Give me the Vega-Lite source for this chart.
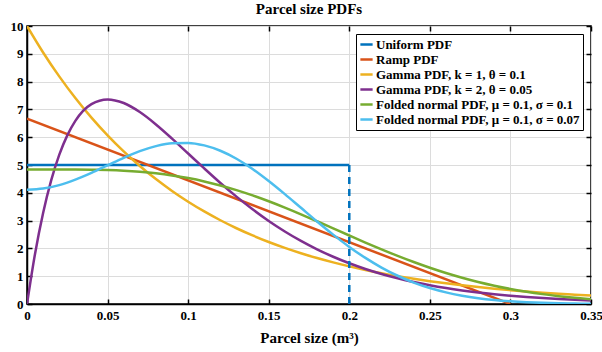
{
  "$schema": "https://vega.github.io/schema/vega-lite/v6.json",
  "width": 564,
  "height": 278,
  "autosize": {"type": "none"},
  "padding": {"left": 27, "top": 26, "right": 11, "bottom": 48},
  "background": "white",
  "config": {
    "font": "Liberation Serif, serif",
    "view": {"stroke": "black", "strokeWidth": 1.5},
    "axis": {
      "labelFont": "Liberation Serif, serif", "labelFontWeight": "bold", "labelFontSize": 13, "labelColor": "black",
      "titleFont": "Liberation Serif, serif", "titleFontWeight": "bold", "titleFontSize": 15, "titleColor": "black",
      "domainColor": "black", "domainWidth": 1.5, "tickColor": "black", "tickWidth": 1.5, "tickSize": -5,
      "gridColor": "#dcdcdc", "gridWidth": 1, "labelOverlap": false
    },
    "legend": {
      "labelFont": "Liberation Serif, serif", "labelFontWeight": "bold", "labelFontSize": 13, "labelColor": "black"
    }
  },
  "title": {"text": "Parcel size PDFs", "font": "Liberation Serif, serif", "fontWeight": "bold", "fontSize": 15, "color": "black", "offset": 3},
  "datasets": {
    "curves": [
      {"x": 0, "y": 5, "s": "Uniform PDF"},
      {"x": 0.2, "y": 5, "s": "Uniform PDF"},
      {"x": 0, "y": 6.667, "s": "Ramp PDF"},
      {"x": 0.3, "y": 0, "s": "Ramp PDF"},
      {"x": 0, "y": 10, "s": "Gamma PDF, k = 1, θ = 0.1"},
      {"x": 0.01, "y": 9.048, "s": "Gamma PDF, k = 1, θ = 0.1"},
      {"x": 0.02, "y": 8.187, "s": "Gamma PDF, k = 1, θ = 0.1"},
      {"x": 0.03, "y": 7.408, "s": "Gamma PDF, k = 1, θ = 0.1"},
      {"x": 0.04, "y": 6.703, "s": "Gamma PDF, k = 1, θ = 0.1"},
      {"x": 0.05, "y": 6.065, "s": "Gamma PDF, k = 1, θ = 0.1"},
      {"x": 0.06, "y": 5.488, "s": "Gamma PDF, k = 1, θ = 0.1"},
      {"x": 0.07, "y": 4.966, "s": "Gamma PDF, k = 1, θ = 0.1"},
      {"x": 0.08, "y": 4.493, "s": "Gamma PDF, k = 1, θ = 0.1"},
      {"x": 0.09, "y": 4.066, "s": "Gamma PDF, k = 1, θ = 0.1"},
      {"x": 0.1, "y": 3.679, "s": "Gamma PDF, k = 1, θ = 0.1"},
      {"x": 0.11, "y": 3.329, "s": "Gamma PDF, k = 1, θ = 0.1"},
      {"x": 0.12, "y": 3.012, "s": "Gamma PDF, k = 1, θ = 0.1"},
      {"x": 0.13, "y": 2.725, "s": "Gamma PDF, k = 1, θ = 0.1"},
      {"x": 0.14, "y": 2.466, "s": "Gamma PDF, k = 1, θ = 0.1"},
      {"x": 0.15, "y": 2.231, "s": "Gamma PDF, k = 1, θ = 0.1"},
      {"x": 0.16, "y": 2.019, "s": "Gamma PDF, k = 1, θ = 0.1"},
      {"x": 0.17, "y": 1.827, "s": "Gamma PDF, k = 1, θ = 0.1"},
      {"x": 0.18, "y": 1.653, "s": "Gamma PDF, k = 1, θ = 0.1"},
      {"x": 0.19, "y": 1.496, "s": "Gamma PDF, k = 1, θ = 0.1"},
      {"x": 0.2, "y": 1.353, "s": "Gamma PDF, k = 1, θ = 0.1"},
      {"x": 0.21, "y": 1.225, "s": "Gamma PDF, k = 1, θ = 0.1"},
      {"x": 0.22, "y": 1.108, "s": "Gamma PDF, k = 1, θ = 0.1"},
      {"x": 0.23, "y": 1.003, "s": "Gamma PDF, k = 1, θ = 0.1"},
      {"x": 0.24, "y": 0.907, "s": "Gamma PDF, k = 1, θ = 0.1"},
      {"x": 0.25, "y": 0.821, "s": "Gamma PDF, k = 1, θ = 0.1"},
      {"x": 0.26, "y": 0.743, "s": "Gamma PDF, k = 1, θ = 0.1"},
      {"x": 0.27, "y": 0.672, "s": "Gamma PDF, k = 1, θ = 0.1"},
      {"x": 0.28, "y": 0.608, "s": "Gamma PDF, k = 1, θ = 0.1"},
      {"x": 0.29, "y": 0.55, "s": "Gamma PDF, k = 1, θ = 0.1"},
      {"x": 0.3, "y": 0.498, "s": "Gamma PDF, k = 1, θ = 0.1"},
      {"x": 0.31, "y": 0.45, "s": "Gamma PDF, k = 1, θ = 0.1"},
      {"x": 0.32, "y": 0.408, "s": "Gamma PDF, k = 1, θ = 0.1"},
      {"x": 0.33, "y": 0.369, "s": "Gamma PDF, k = 1, θ = 0.1"},
      {"x": 0.34, "y": 0.334, "s": "Gamma PDF, k = 1, θ = 0.1"},
      {"x": 0.35, "y": 0.302, "s": "Gamma PDF, k = 1, θ = 0.1"},
      {"x": 0, "y": 0, "s": "Gamma PDF, k = 2, θ = 0.05"},
      {"x": 0.005, "y": 1.81, "s": "Gamma PDF, k = 2, θ = 0.05"},
      {"x": 0.01, "y": 3.275, "s": "Gamma PDF, k = 2, θ = 0.05"},
      {"x": 0.015, "y": 4.445, "s": "Gamma PDF, k = 2, θ = 0.05"},
      {"x": 0.02, "y": 5.363, "s": "Gamma PDF, k = 2, θ = 0.05"},
      {"x": 0.025, "y": 6.065, "s": "Gamma PDF, k = 2, θ = 0.05"},
      {"x": 0.03, "y": 6.586, "s": "Gamma PDF, k = 2, θ = 0.05"},
      {"x": 0.04, "y": 7.189, "s": "Gamma PDF, k = 2, θ = 0.05"},
      {"x": 0.05, "y": 7.358, "s": "Gamma PDF, k = 2, θ = 0.05"},
      {"x": 0.06, "y": 7.229, "s": "Gamma PDF, k = 2, θ = 0.05"},
      {"x": 0.07, "y": 6.905, "s": "Gamma PDF, k = 2, θ = 0.05"},
      {"x": 0.08, "y": 6.46, "s": "Gamma PDF, k = 2, θ = 0.05"},
      {"x": 0.09, "y": 5.951, "s": "Gamma PDF, k = 2, θ = 0.05"},
      {"x": 0.1, "y": 5.413, "s": "Gamma PDF, k = 2, θ = 0.05"},
      {"x": 0.11, "y": 4.876, "s": "Gamma PDF, k = 2, θ = 0.05"},
      {"x": 0.12, "y": 4.354, "s": "Gamma PDF, k = 2, θ = 0.05"},
      {"x": 0.13, "y": 3.862, "s": "Gamma PDF, k = 2, θ = 0.05"},
      {"x": 0.14, "y": 3.405, "s": "Gamma PDF, k = 2, θ = 0.05"},
      {"x": 0.15, "y": 2.987, "s": "Gamma PDF, k = 2, θ = 0.05"},
      {"x": 0.16, "y": 2.609, "s": "Gamma PDF, k = 2, θ = 0.05"},
      {"x": 0.17, "y": 2.269, "s": "Gamma PDF, k = 2, θ = 0.05"},
      {"x": 0.18, "y": 1.967, "s": "Gamma PDF, k = 2, θ = 0.05"},
      {"x": 0.19, "y": 1.7, "s": "Gamma PDF, k = 2, θ = 0.05"},
      {"x": 0.2, "y": 1.465, "s": "Gamma PDF, k = 2, θ = 0.05"},
      {"x": 0.21, "y": 1.26, "s": "Gamma PDF, k = 2, θ = 0.05"},
      {"x": 0.22, "y": 1.081, "s": "Gamma PDF, k = 2, θ = 0.05"},
      {"x": 0.23, "y": 0.925, "s": "Gamma PDF, k = 2, θ = 0.05"},
      {"x": 0.24, "y": 0.79, "s": "Gamma PDF, k = 2, θ = 0.05"},
      {"x": 0.25, "y": 0.674, "s": "Gamma PDF, k = 2, θ = 0.05"},
      {"x": 0.26, "y": 0.574, "s": "Gamma PDF, k = 2, θ = 0.05"},
      {"x": 0.27, "y": 0.488, "s": "Gamma PDF, k = 2, θ = 0.05"},
      {"x": 0.28, "y": 0.414, "s": "Gamma PDF, k = 2, θ = 0.05"},
      {"x": 0.29, "y": 0.351, "s": "Gamma PDF, k = 2, θ = 0.05"},
      {"x": 0.3, "y": 0.297, "s": "Gamma PDF, k = 2, θ = 0.05"},
      {"x": 0.31, "y": 0.252, "s": "Gamma PDF, k = 2, θ = 0.05"},
      {"x": 0.32, "y": 0.213, "s": "Gamma PDF, k = 2, θ = 0.05"},
      {"x": 0.33, "y": 0.18, "s": "Gamma PDF, k = 2, θ = 0.05"},
      {"x": 0.34, "y": 0.151, "s": "Gamma PDF, k = 2, θ = 0.05"},
      {"x": 0.35, "y": 0.128, "s": "Gamma PDF, k = 2, θ = 0.05"},
      {"x": 0, "y": 4.839, "s": "Folded normal PDF, μ = 0.1, σ = 0.1"},
      {"x": 0.01, "y": 4.839, "s": "Folded normal PDF, μ = 0.1, σ = 0.1"},
      {"x": 0.02, "y": 4.839, "s": "Folded normal PDF, μ = 0.1, σ = 0.1"},
      {"x": 0.03, "y": 4.836, "s": "Folded normal PDF, μ = 0.1, σ = 0.1"},
      {"x": 0.04, "y": 4.83, "s": "Folded normal PDF, μ = 0.1, σ = 0.1"},
      {"x": 0.05, "y": 4.816, "s": "Folded normal PDF, μ = 0.1, σ = 0.1"},
      {"x": 0.06, "y": 4.792, "s": "Folded normal PDF, μ = 0.1, σ = 0.1"},
      {"x": 0.07, "y": 4.754, "s": "Folded normal PDF, μ = 0.1, σ = 0.1"},
      {"x": 0.08, "y": 4.7, "s": "Folded normal PDF, μ = 0.1, σ = 0.1"},
      {"x": 0.09, "y": 4.626, "s": "Folded normal PDF, μ = 0.1, σ = 0.1"},
      {"x": 0.1, "y": 4.529, "s": "Folded normal PDF, μ = 0.1, σ = 0.1"},
      {"x": 0.11, "y": 4.409, "s": "Folded normal PDF, μ = 0.1, σ = 0.1"},
      {"x": 0.12, "y": 4.265, "s": "Folded normal PDF, μ = 0.1, σ = 0.1"},
      {"x": 0.13, "y": 4.097, "s": "Folded normal PDF, μ = 0.1, σ = 0.1"},
      {"x": 0.14, "y": 3.907, "s": "Folded normal PDF, μ = 0.1, σ = 0.1"},
      {"x": 0.15, "y": 3.696, "s": "Folded normal PDF, μ = 0.1, σ = 0.1"},
      {"x": 0.16, "y": 3.468, "s": "Folded normal PDF, μ = 0.1, σ = 0.1"},
      {"x": 0.17, "y": 3.227, "s": "Folded normal PDF, μ = 0.1, σ = 0.1"},
      {"x": 0.18, "y": 2.976, "s": "Folded normal PDF, μ = 0.1, σ = 0.1"},
      {"x": 0.19, "y": 2.72, "s": "Folded normal PDF, μ = 0.1, σ = 0.1"},
      {"x": 0.2, "y": 2.464, "s": "Folded normal PDF, μ = 0.1, σ = 0.1"},
      {"x": 0.21, "y": 2.211, "s": "Folded normal PDF, μ = 0.1, σ = 0.1"},
      {"x": 0.22, "y": 1.966, "s": "Folded normal PDF, μ = 0.1, σ = 0.1"},
      {"x": 0.23, "y": 1.731, "s": "Folded normal PDF, μ = 0.1, σ = 0.1"},
      {"x": 0.24, "y": 1.51, "s": "Folded normal PDF, μ = 0.1, σ = 0.1"},
      {"x": 0.25, "y": 1.304, "s": "Folded normal PDF, μ = 0.1, σ = 0.1"},
      {"x": 0.26, "y": 1.115, "s": "Folded normal PDF, μ = 0.1, σ = 0.1"},
      {"x": 0.27, "y": 0.945, "s": "Folded normal PDF, μ = 0.1, σ = 0.1"},
      {"x": 0.28, "y": 0.792, "s": "Folded normal PDF, μ = 0.1, σ = 0.1"},
      {"x": 0.29, "y": 0.658, "s": "Folded normal PDF, μ = 0.1, σ = 0.1"},
      {"x": 0.3, "y": 0.541, "s": "Folded normal PDF, μ = 0.1, σ = 0.1"},
      {"x": 0.31, "y": 0.44, "s": "Folded normal PDF, μ = 0.1, σ = 0.1"},
      {"x": 0.32, "y": 0.355, "s": "Folded normal PDF, μ = 0.1, σ = 0.1"},
      {"x": 0.33, "y": 0.283, "s": "Folded normal PDF, μ = 0.1, σ = 0.1"},
      {"x": 0.34, "y": 0.224, "s": "Folded normal PDF, μ = 0.1, σ = 0.1"},
      {"x": 0.35, "y": 0.175, "s": "Folded normal PDF, μ = 0.1, σ = 0.1"},
      {"x": 0, "y": 4.109, "s": "Folded normal PDF, μ = 0.1, σ = 0.07"},
      {"x": 0.01, "y": 4.152, "s": "Folded normal PDF, μ = 0.1, σ = 0.07"},
      {"x": 0.02, "y": 4.277, "s": "Folded normal PDF, μ = 0.1, σ = 0.07"},
      {"x": 0.03, "y": 4.473, "s": "Folded normal PDF, μ = 0.1, σ = 0.07"},
      {"x": 0.04, "y": 4.718, "s": "Folded normal PDF, μ = 0.1, σ = 0.07"},
      {"x": 0.05, "y": 4.989, "s": "Folded normal PDF, μ = 0.1, σ = 0.07"},
      {"x": 0.06, "y": 5.259, "s": "Folded normal PDF, μ = 0.1, σ = 0.07"},
      {"x": 0.07, "y": 5.498, "s": "Folded normal PDF, μ = 0.1, σ = 0.07"},
      {"x": 0.08, "y": 5.68, "s": "Folded normal PDF, μ = 0.1, σ = 0.07"},
      {"x": 0.09, "y": 5.785, "s": "Folded normal PDF, μ = 0.1, σ = 0.07"},
      {"x": 0.1, "y": 5.795, "s": "Folded normal PDF, μ = 0.1, σ = 0.07"},
      {"x": 0.11, "y": 5.705, "s": "Folded normal PDF, μ = 0.1, σ = 0.07"},
      {"x": 0.12, "y": 5.512, "s": "Folded normal PDF, μ = 0.1, σ = 0.07"},
      {"x": 0.13, "y": 5.225, "s": "Folded normal PDF, μ = 0.1, σ = 0.07"},
      {"x": 0.14, "y": 4.857, "s": "Folded normal PDF, μ = 0.1, σ = 0.07"},
      {"x": 0.15, "y": 4.425, "s": "Folded normal PDF, μ = 0.1, σ = 0.07"},
      {"x": 0.16, "y": 3.953, "s": "Folded normal PDF, μ = 0.1, σ = 0.07"},
      {"x": 0.17, "y": 3.46, "s": "Folded normal PDF, μ = 0.1, σ = 0.07"},
      {"x": 0.18, "y": 2.968, "s": "Folded normal PDF, μ = 0.1, σ = 0.07"},
      {"x": 0.19, "y": 2.495, "s": "Folded normal PDF, μ = 0.1, σ = 0.07"},
      {"x": 0.2, "y": 2.054, "s": "Folded normal PDF, μ = 0.1, σ = 0.07"},
      {"x": 0.21, "y": 1.658, "s": "Folded normal PDF, μ = 0.1, σ = 0.07"},
      {"x": 0.22, "y": 1.311, "s": "Folded normal PDF, μ = 0.1, σ = 0.07"},
      {"x": 0.23, "y": 1.016, "s": "Folded normal PDF, μ = 0.1, σ = 0.07"},
      {"x": 0.24, "y": 0.771, "s": "Folded normal PDF, μ = 0.1, σ = 0.07"},
      {"x": 0.25, "y": 0.574, "s": "Folded normal PDF, μ = 0.1, σ = 0.07"},
      {"x": 0.26, "y": 0.418, "s": "Folded normal PDF, μ = 0.1, σ = 0.07"},
      {"x": 0.27, "y": 0.299, "s": "Folded normal PDF, μ = 0.1, σ = 0.07"},
      {"x": 0.28, "y": 0.209, "s": "Folded normal PDF, μ = 0.1, σ = 0.07"},
      {"x": 0.29, "y": 0.143, "s": "Folded normal PDF, μ = 0.1, σ = 0.07"},
      {"x": 0.3, "y": 0.096, "s": "Folded normal PDF, μ = 0.1, σ = 0.07"},
      {"x": 0.31, "y": 0.063, "s": "Folded normal PDF, μ = 0.1, σ = 0.07"},
      {"x": 0.32, "y": 0.041, "s": "Folded normal PDF, μ = 0.1, σ = 0.07"},
      {"x": 0.33, "y": 0.026, "s": "Folded normal PDF, μ = 0.1, σ = 0.07"},
      {"x": 0.34, "y": 0.016, "s": "Folded normal PDF, μ = 0.1, σ = 0.07"},
      {"x": 0.35, "y": 0.01, "s": "Folded normal PDF, μ = 0.1, σ = 0.07"}
    ],
    "drop": [
      {"x": 0.2, "y": 5},
      {"x": 0.2, "y": 0}
    ]
  },
  "resolve": {"axis": {"x": "independent", "y": "independent"}},
  "layer": [
    {
      "data": {"name": "curves"},
      "mark": {"type": "line", "strokeWidth": 2.5, "interpolate": "monotone", "clip": true},
      "encoding": {
        "x": {"field": "x", "type": "quantitative", "scale": {"domain": [0, 0.35], "nice": false},
              "axis": {"title": "Parcel size (m³)", "values": [0, 0.05, 0.1, 0.15, 0.2, 0.25, 0.3, 0.35], "format": "~g", "labelPadding": 10, "titlePadding": 8, "labelFlush": false}},
        "y": {"field": "y", "type": "quantitative", "scale": {"domain": [0, 10], "nice": false},
              "axis": {"title": null, "values": [0,1,2,3,4,5,6,7,8,9,10], "labelPadding": 9, "labelFlush": false}},
        "color": {"field": "s", "type": "nominal",
          "scale": {"domain": ["Uniform PDF", "Ramp PDF", "Gamma PDF, k = 1, θ = 0.1", "Gamma PDF, k = 2, θ = 0.05", "Folded normal PDF, μ = 0.1, σ = 0.1", "Folded normal PDF, μ = 0.1, σ = 0.07"],
                    "range": ["#0072BD", "#D95319", "#EDB120", "#7E2F8E", "#77AC30", "#4DBEEE"]},
          "legend": {"title": null, "orient": "top-right", "offset": 8, "fillColor": "white", "strokeColor": "black",
                     "padding": 3, "rowPadding": -2.5, "symbolType": "stroke", "symbolSize": 150, "symbolStrokeWidth": 2.5, "labelOffset": 2, "labelLimit": 300}}
      }
    },
    {
      "data": {"name": "drop"},
      "mark": {"type": "line", "strokeWidth": 2.5, "strokeDash": [7, 5], "color": "#0072BD"},
      "encoding": {
        "x": {"field": "x", "type": "quantitative", "axis": null},
        "y": {"field": "y", "type": "quantitative", "axis": null}
      }
    },
    {
      "data": {"name": "drop"},
      "mark": {"type": "line", "opacity": 0},
      "encoding": {
        "x": {"field": "x", "type": "quantitative",
              "axis": {"orient": "top", "title": null, "labels": false, "grid": false, "domain": false, "values": [0, 0.05, 0.1, 0.15, 0.2, 0.25, 0.3, 0.35]}},
        "y": {"field": "y", "type": "quantitative",
              "axis": {"orient": "right", "title": null, "labels": false, "grid": false, "domain": false, "values": [0,1,2,3,4,5,6,7,8,9,10]}}
      }
    }
  ]
}
